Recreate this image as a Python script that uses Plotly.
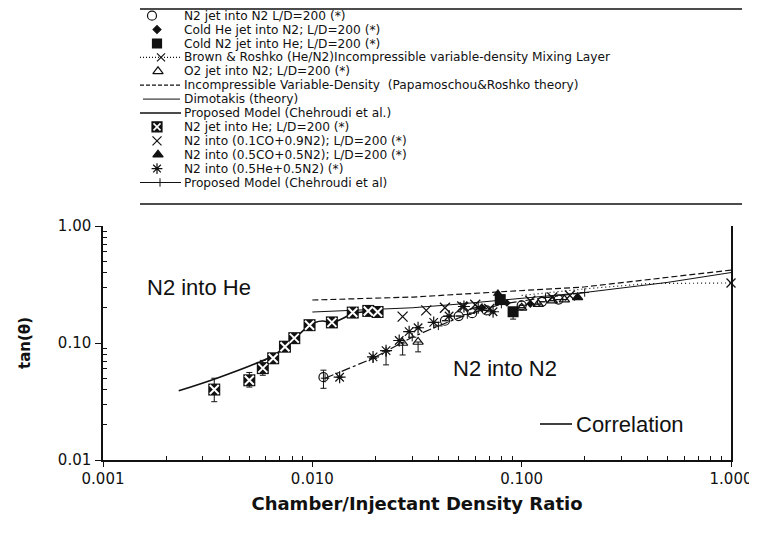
import plotly.graph_objects as go

W, H = 757, 533          # browser window
OFF = 8                  # page body margin in the browser
FW, FH = W - OFF, H - OFF

# ---------------- data (density ratio, tan(theta)) ----------------
# N2 jet into He; L/D=200
HE_X = [0.0034, 0.0050, 0.0058, 0.0065, 0.0074, 0.0082, 0.0097, 0.0124, 0.0156, 0.0185, 0.0205]
HE_Y = [0.040, 0.048, 0.061, 0.074, 0.093, 0.110, 0.142, 0.150, 0.182, 0.188, 0.184]
HE_EP = [0.010, 0.008, 0.010, 0.004, 0, 0, 0, 0, 0, 0, 0]
HE_EM = [0.0085, 0.006, 0.008, 0.003, 0, 0, 0, 0, 0, 0, 0]

# N2 jet into N2 L/D=200
N2N2_X = [0.0113, 0.043, 0.050, 0.058, 0.068, 0.100, 0.125, 0.150]
N2N2_Y = [0.051, 0.155, 0.170, 0.180, 0.190, 0.210, 0.225, 0.235]
N2N2_EP = [0.0076, 0, 0, 0, 0, 0, 0, 0]
N2N2_EM = [0.010, 0, 0, 0, 0, 0, 0, 0]

# Cold He jet into N2
CHE_X = [0.065, 0.085, 0.110]
CHE_Y = [0.200, 0.220, 0.215]

# Cold N2 jet into He
CN2_X = [0.079, 0.091]
CN2_Y = [0.235, 0.185]
CN2_EM = [0.0, 0.025]

# O2 jet into N2
O2_X = [0.027, 0.032, 0.100, 0.120, 0.140, 0.160, 0.185]
O2_Y = [0.100, 0.102, 0.200, 0.215, 0.230, 0.235, 0.245]
O2_EM = [0.021, 0.018, 0, 0, 0, 0, 0]

# N2 into (0.1CO+0.9N2)
CO1_X = [0.027, 0.035, 0.043, 0.052, 0.060, 0.070, 0.110, 0.140, 0.170]
CO1_Y = [0.168, 0.190, 0.200, 0.205, 0.212, 0.195, 0.230, 0.245, 0.255]

# N2 into (0.5CO+0.5N2)
CO5_X = [0.077, 0.185]
CO5_Y = [0.265, 0.245]

# N2 into (0.5He+0.5N2)
HEN2_X = [0.0135, 0.0195, 0.0225, 0.026, 0.029, 0.032, 0.038, 0.045, 0.053, 0.062, 0.073]
HEN2_Y = [0.051, 0.076, 0.086, 0.105, 0.125, 0.135, 0.150, 0.170, 0.205, 0.200, 0.185]
HEN2_EM = [0, 0, 0.021, 0, 0, 0, 0, 0, 0, 0, 0]

# Brown & Roshko (He/N2)
BR_LINE_X = [0.10, 0.20, 0.40, 1.00]
BR_LINE_Y = [0.255, 0.290, 0.322, 0.326]
BR_PT_X = [1.00]
BR_PT_Y = [0.326]

# Incompressible variable-density (Papamoschou & Roshko)
PR_X = [0.0100, 0.0304, 0.0767, 0.198, 1.00]
PR_Y = [0.233, 0.247, 0.273, 0.301, 0.420]

# Dimotakis (theory)
DIM_X = [0.0100, 0.030, 0.050, 0.100, 0.200, 0.500, 1.00]
DIM_Y = [0.184, 0.200, 0.215, 0.240, 0.270, 0.330, 0.400]

# Proposed model (He curve)
PMHE_X = [0.0023, 0.0035, 0.0055, 0.0065, 0.0075, 0.0085, 0.0097, 0.0103, 0.0112, 0.0125, 0.0160, 0.0200]
PMHE_Y = [0.039, 0.050, 0.068, 0.078, 0.094, 0.115, 0.142, 0.150, 0.154, 0.150, 0.180, 0.185]

# Proposed model (N2 curve)
PMN2_X = [0.0115, 0.0195, 0.0225, 0.030, 0.040, 0.055, 0.080, 0.130, 0.200]
PMN2_Y = [0.050, 0.074, 0.085, 0.112, 0.140, 0.175, 0.215, 0.245, 0.270]

X_TICKS = [0.001, 0.01, 0.1, 1.0]
X_TICKTEXT = ["0.001", "0.010", "0.100", "1.000"]
Y_TICKS = [0.01, 0.1, 1.0]
Y_TICKTEXT = ["0.01", "0.10", "1.00"]

LEGEND_LABELS = [
    "N2 jet into N2 L/D=200 (*)",
    "Cold He jet into N2; L/D=200 (*)",
    "Cold N2 jet into He; L/D=200 (*)",
    "Brown & Roshko (He/N2)Incompressible variable-density Mixing Layer",
    "O2 jet into N2; L/D=200 (*)",
    "Incompressible Variable-Density  (Papamoschou&Roshko theory)",
    "Dimotakis (theory)",
    "Proposed Model (Chehroudi et al.)",
    "N2 jet into He; L/D=200 (*)",
    "N2 into (0.1CO+0.9N2); L/D=200 (*)",
    "N2 into (0.5CO+0.5N2); L/D=200 (*)",
    "N2 into (0.5He+0.5N2) (*)",
    "Proposed Model (Chehroudi et al)",
]

INK = "#111111"
FONT = "DejaVu Sans"

fig = go.Figure()


def eb(plus, minus):
    return dict(type="data", array=plus, arrayminus=minus, symmetric=False,
                color=INK, thickness=1, width=3)


# ---------- lines ----------
fig.add_trace(go.Scatter(x=PR_X, y=PR_Y, mode="lines",
                         line=dict(color=INK, width=1.2, dash="6px,3px"), cliponaxis=False))
fig.add_trace(go.Scatter(x=DIM_X, y=DIM_Y, mode="lines",
                         line=dict(color=INK, width=1), cliponaxis=False))
fig.add_trace(go.Scatter(x=BR_LINE_X, y=BR_LINE_Y, mode="lines",
                         line=dict(color=INK, width=1.2, dash="1px,3px"), cliponaxis=False))
fig.add_trace(go.Scatter(x=PMHE_X, y=PMHE_Y, mode="lines", line_shape="spline",
                         line=dict(color=INK, width=1.6)))
fig.add_trace(go.Scatter(x=PMN2_X, y=PMN2_Y, mode="lines+markers",
                         line=dict(color=INK, width=1.2, dash="dashdot"),
                         marker=dict(symbol="cross-thin-open", size=6, line=dict(color=INK, width=1))))

# ---------- markers ----------
fig.add_trace(go.Scatter(x=N2N2_X, y=N2N2_Y, mode="markers", error_y=eb(N2N2_EP, N2N2_EM),
                         marker=dict(symbol="circle-open", size=9, color=INK, line=dict(color=INK, width=1.2))))
fig.add_trace(go.Scatter(x=CHE_X, y=CHE_Y, mode="markers",
                         marker=dict(symbol="diamond", size=6, color=INK)))
fig.add_trace(go.Scatter(x=O2_X, y=O2_Y, mode="markers", error_y=eb([0] * len(O2_X), O2_EM),
                         marker=dict(symbol="triangle-up-open", size=9, color=INK, line=dict(color=INK, width=1.2))))
fig.add_trace(go.Scatter(x=CO1_X, y=CO1_Y, mode="markers",
                         marker=dict(symbol="x-thin-open", size=10, color=INK, line=dict(color=INK, width=1.3))))
fig.add_trace(go.Scatter(x=HEN2_X, y=HEN2_Y, mode="markers", error_y=eb([0] * len(HEN2_X), HEN2_EM),
                         marker=dict(symbol="asterisk-open", size=10, color=INK, line=dict(color=INK, width=1.2))))
fig.add_trace(go.Scatter(x=CO5_X, y=CO5_Y, mode="markers",
                         marker=dict(symbol="triangle-up", size=9, color=INK)))
fig.add_trace(go.Scatter(x=CN2_X, y=CN2_Y, mode="markers", error_y=eb([0] * len(CN2_X), CN2_EM),
                         marker=dict(symbol="square", size=11, color=INK)))
fig.add_trace(go.Scatter(x=HE_X, y=HE_Y, mode="markers", error_y=eb(HE_EP, HE_EM),
                         marker=dict(symbol="square", size=12, color=INK)))
fig.add_trace(go.Scatter(x=HE_X, y=HE_Y, mode="markers",
                         marker=dict(symbol="x-thin-open", size=9, color="white", line=dict(color="white", width=2))))
fig.add_trace(go.Scatter(x=BR_PT_X, y=BR_PT_Y, mode="markers", cliponaxis=False,
                         marker=dict(symbol="x-thin-open", size=9, color=INK, line=dict(color=INK, width=1.3))))

for tr in fig.data:
    tr.showlegend = False

# ---------- hand-drawn legend (page-pixel helper axes) ----------
ROW0, DROW = 15.7, 13.9
MX = 157


def row_y(i):
    return ROW0 + DROW * i


def leg_marker(i, symbol, size, xpos=MX, color=INK, lw=1.2, lc=INK):
    fig.add_trace(go.Scatter(x=[xpos], y=[row_y(i)], mode="markers", xaxis="x2", yaxis="y2",
                             showlegend=False, hoverinfo="skip",
                             marker=dict(symbol=symbol, size=size, color=color, line=dict(color=lc, width=lw))))


def leg_line(i, x0, x1, dash="solid", width=1.2):
    fig.add_trace(go.Scatter(x=[x0, x1], y=[row_y(i), row_y(i)], mode="lines", xaxis="x2", yaxis="y2",
                             showlegend=False, hoverinfo="skip",
                             line=dict(color=INK, width=width, dash=dash)))


leg_marker(0, "circle-open", 9, xpos=152)
leg_marker(1, "diamond", 6)
leg_marker(2, "square", 9)
leg_line(3, 140, 180, dash="1px,2px")
leg_marker(3, "x-thin-open", 8, xpos=161)
leg_marker(4, "triangle-up-open", 9, xpos=158)
leg_line(5, 140, 180, dash="4px,2px")
leg_line(6, 143, 180, width=1)
leg_line(7, 140, 181, width=1.6)
leg_marker(8, "square", 10)
leg_marker(8, "x-thin-open", 7, color="white", lc="white", lw=1.6)
leg_marker(9, "x-thin-open", 9, lw=1.2)
leg_marker(10, "triangle-up", 9, xpos=158)
leg_marker(11, "asterisk-open", 9)
leg_line(12, 140, 181, width=1.2)
leg_marker(12, "cross-thin-open", 6, xpos=160, lw=1)

annotations = []
for i, lab in enumerate(LEGEND_LABELS):
    annotations.append(dict(x=182, y=row_y(i), xref="x2", yref="y2", text=lab, showarrow=False,
                            xanchor="left", yanchor="middle",
                            font=dict(family=FONT, size=12.2, color=INK)))


def pxp(x):
    return (x - OFF) / FW


def pyp(y):
    return 1 - (y - OFF) / FH


annotations += [
    dict(x=pxp(199), y=pyp(287), xref="paper", yref="paper", text="N2 into He", showarrow=False,
         xanchor="center", yanchor="middle", font=dict(family="Liberation Sans", size=22, color=INK)),
    dict(x=pxp(505), y=pyp(368), xref="paper", yref="paper", text="N2 into N2", showarrow=False,
         xanchor="center", yanchor="middle", font=dict(family="Liberation Sans", size=22, color=INK)),
    dict(x=pxp(574), y=pyp(424), xref="paper", yref="paper", text="Correlation", showarrow=False,
         xanchor="left", yanchor="middle", font=dict(family="Liberation Sans", size=22, color=INK)),
]

shapes = [
    dict(type="line", xref="paper", yref="paper", x0=pxp(140), x1=pxp(742), y0=pyp(9), y1=pyp(9),
         line=dict(color=INK, width=1.5)),
    dict(type="line", xref="paper", yref="paper", x0=pxp(140), x1=pxp(742), y0=pyp(204), y1=pyp(204),
         line=dict(color=INK, width=1.5)),
    dict(type="line", xref="paper", yref="paper", x0=pxp(540), x1=pxp(572), y0=pyp(424), y1=pyp(424),
         line=dict(color=INK, width=1.6)),
]

X_MINOR = [k * 10.0 ** e for e in range(-3, 0) for k in range(2, 10)]
Y_MINOR = [k * 10.0 ** e for e in range(-2, 0) for k in range(2, 10)]

fig.update_layout(
    width=FW, height=FH,
    margin=dict(l=0, r=0, t=0, b=0, autoexpand=False),
    paper_bgcolor="white", plot_bgcolor="rgba(0,0,0,0)",
    showlegend=False,
    annotations=annotations, shapes=shapes,
    xaxis=dict(type="log", range=[-3, 0], domain=[pxp(103), pxp(731)], anchor="y", automargin=False,
               tickmode="array", tickvals=X_TICKS, ticktext=X_TICKTEXT,
               ticks="outside", ticklen=5, tickwidth=1.2, tickcolor=INK,
               showline=True, linecolor=INK, linewidth=1.5, mirror=False,
               showgrid=False, zeroline=False, ticklabelstandoff=-1,
               minor=dict(tickmode="array", tickvals=X_MINOR, ticks="inside", ticklen=4,
                          tickwidth=1, tickcolor=INK, showgrid=False),
               tickfont=dict(family=FONT, size=15, color=INK),
               title=dict(text="Chamber/Injectant Density Ratio", standoff=11,
                          font=dict(family=FONT, size=18, color=INK, weight="bold"))),
    yaxis=dict(type="log", range=[-2, 0], domain=[pyp(460), pyp(226)], anchor="x", automargin=False,
               tickmode="array", tickvals=Y_TICKS, ticktext=Y_TICKTEXT,
               ticks="outside", ticklen=6, tickwidth=1.2, tickcolor=INK,
               showline=True, linecolor=INK, linewidth=1.5, mirror=True,
               showgrid=False, zeroline=False, ticklabelstandoff=1,
               minor=dict(tickmode="array", tickvals=Y_MINOR, ticks="inside", ticklen=4,
                          tickwidth=1, tickcolor=INK, showgrid=False),
               tickfont=dict(family=FONT, size=15, color=INK),
               title=dict(text="tan(θ)", standoff=24,
                          font=dict(family=FONT, size=15, color=INK, weight="bold"))),
    xaxis2=dict(domain=[0, 1], range=[OFF, W], anchor="y2", visible=False, fixedrange=True),
    yaxis2=dict(domain=[0, 1], range=[H, OFF], anchor="x2", visible=False, fixedrange=True),
)

fig.write_html("out.html")
